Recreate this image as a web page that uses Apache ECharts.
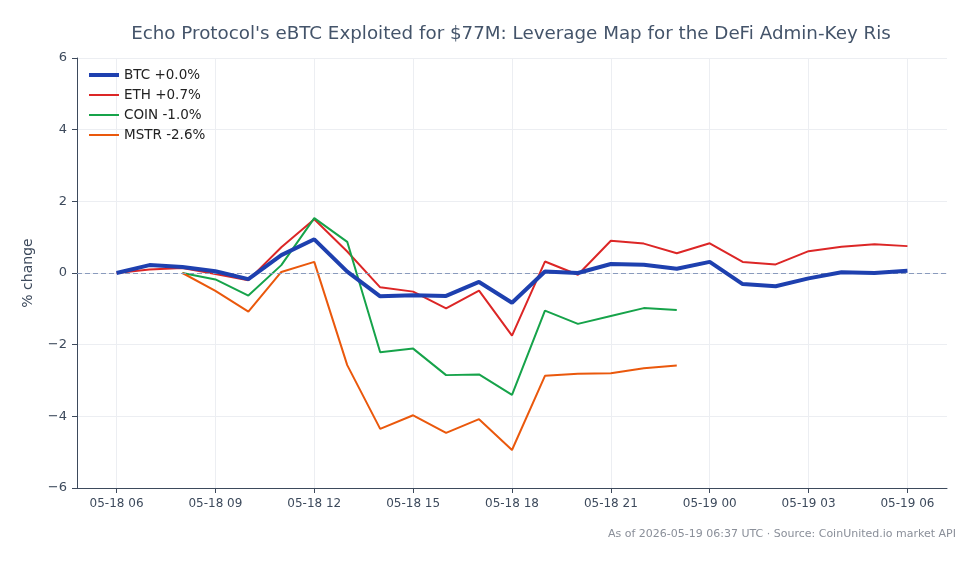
<!DOCTYPE html>
<html>
<head>
<meta charset="utf-8">
<script src="https://cdn.jsdelivr.net/npm/echarts@6/dist/echarts.min.js"></script>
<style>
  html, body { margin: 0; padding: 0; background: #fff; }
  #chart { width: 979px; height: 564px; }
</style>
</head>
<body>
<div id="chart"></div>
<script>
// hourly points, 05-18 06 -> 05-19 06 (UTC)
var times = [
  "05-18 06", "05-18 07", "05-18 08", "05-18 09", "05-18 10", "05-18 11", "05-18 12",
  "05-18 13", "05-18 14", "05-18 15", "05-18 16", "05-18 17", "05-18 18", "05-18 19",
  "05-18 20", "05-18 21", "05-18 22", "05-18 23", "05-19 00", "05-19 01", "05-19 02",
  "05-19 03", "05-19 04", "05-19 05", "05-19 06"
];
// tick positions (index into times)
var tickIdx = [0, 3, 6, 9, 12, 15, 18, 21, 24];

var btc = [0.0, 0.22, 0.17, 0.05, -0.17, 0.5, 0.94, 0.04, -0.65, -0.62, -0.64, -0.25, -0.83,
  0.04, 0.0, 0.25, 0.23, 0.12, 0.31, -0.31, -0.37, -0.15, 0.02, 0.0, 0.06];
var eth = [0.0, 0.1, 0.14, -0.03, -0.2, 0.72, 1.5, 0.6, -0.4, -0.52, -0.99, -0.49, -1.75,
  0.32, -0.05, 0.9, 0.82, 0.55, 0.83, 0.31, 0.24, 0.61, 0.73, 0.8, 0.75];
var coin = [null, null, 0.0, -0.18, -0.63, 0.22, 1.53, 0.87, -2.21, -2.11, -2.85, -2.83, -3.4,
  -1.05, -1.42, -1.2, -0.98, -1.03, null, null, null, null, null, null, null];
var mstr = [null, null, 0.0, -0.5, -1.08, 0.03, 0.31, -2.57, -4.35, -3.97, -4.46, -4.08, -4.94,
  -2.87, -2.81, -2.8, -2.66, -2.58, null, null, null, null, null, null, null];

var seriesNames = ["BTC +0.0%", "ETH +0.7%", "COIN -1.0%", "MSTR -2.6%"];
var seriesColors = ["#1e40af", "#dc2626", "#16a34a", "#ea580c"];
var seriesWidths = [4, 2, 2, 2];

(function () {
  var myChart = echarts.init(document.getElementById("chart"));
  var font = "DejaVu Sans";

  function pairs(arr) {
    var out = [];
    arr.forEach(function (v, i) {
      if (v !== null) out.push([i, v]);
    });
    return out;
  }

  var all = [btc, eth, coin, mstr];
  var series = all.map(function (arr, k) {
    return {
      name: seriesNames[k],
      type: "line",
      data: pairs(arr),
      symbol: "none",
      z: k === 0 ? 5 : 3,
      lineStyle: { color: seriesColors[k], width: seriesWidths[k] },
      itemStyle: { color: seriesColors[k] }
    };
  });
  // zero reference line
  series[0].markLine = {
    silent: true,
    symbol: "none",
    label: { show: false },
    lineStyle: { color: "#8a9bbd", type: [5, 3], width: 1 },
    data: [{ yAxis: 0 }]
  };

  var option = {
    animation: false,
    textStyle: { fontFamily: font },
    title: {
      text: "Echo Protocol's eBTC Exploited for $77M: Leverage Map for the DeFi Admin-Key Ris",
      left: 506,
      textAlign: "center",
      top: 20,
      textStyle: { fontFamily: font, fontSize: 18.3, fontWeight: "normal", color: "#44546a" }
    },
    legend: {
      orient: "vertical",
      left: 87,
      top: 68,
      padding: 0,
      itemWidth: 30,
      itemHeight: 14,
      itemGap: 6,
      itemStyle: { opacity: 0 },
      data: seriesNames.map(function (n, k) {
        return { name: n, lineStyle: { width: seriesWidths[k] } };
      }),
      textStyle: { fontFamily: font, fontSize: 13.5, color: "#222" }
    },
    grid: { left: 77, right: 32, top: 58, bottom: 76 },
    xAxis: {
      type: "value",
      min: -1.2,
      max: 25.2,
      axisLine: { show: true, onZero: false, lineStyle: { color: "#3d4a5c" } },
      axisTick: { show: true, length: 5, customValues: tickIdx, lineStyle: { color: "#3d4a5c" } },
      axisLabel: {
        customValues: tickIdx,
        color: "#3d4a5c",
        fontSize: 12,
        margin: 10,
        formatter: function (v) { return times[Math.round(v)] || ""; }
      },
      splitLine: { show: true, lineStyle: { color: "#eceef2" } }
    },
    yAxis: {
      type: "value",
      min: -6,
      max: 6,
      interval: 2,
      name: "% change",
      nameLocation: "middle",
      nameGap: 42,
      nameTextStyle: { fontFamily: font, fontSize: 14, color: "#3d4a5c" },
      axisLine: { show: true, onZero: false, lineStyle: { color: "#3d4a5c" } },
      axisTick: { show: true, length: 5, lineStyle: { color: "#3d4a5c" } },
      axisLabel: {
        color: "#3d4a5c",
        fontSize: 13,
        margin: 10,
        formatter: function (v) { return String(v).replace("-", "\u2212"); }
      },
      splitLine: { show: true, lineStyle: { color: "#eceef2" } }
    },
    graphic: [{
      type: "text",
      right: 23,
      top: 529,
      style: {
        text: "As of 2026-05-19 06:37 UTC \u00b7 Source: CoinUnited.io market API",
        fontFamily: font,
        fontSize: 11,
        fill: "#8a8f99"
      }
    }],
    series: series
  };

  myChart.setOption(option);
  window.addEventListener("resize", function () {
    myChart.resize();
  });
})();
</script>
</body>
</html>
